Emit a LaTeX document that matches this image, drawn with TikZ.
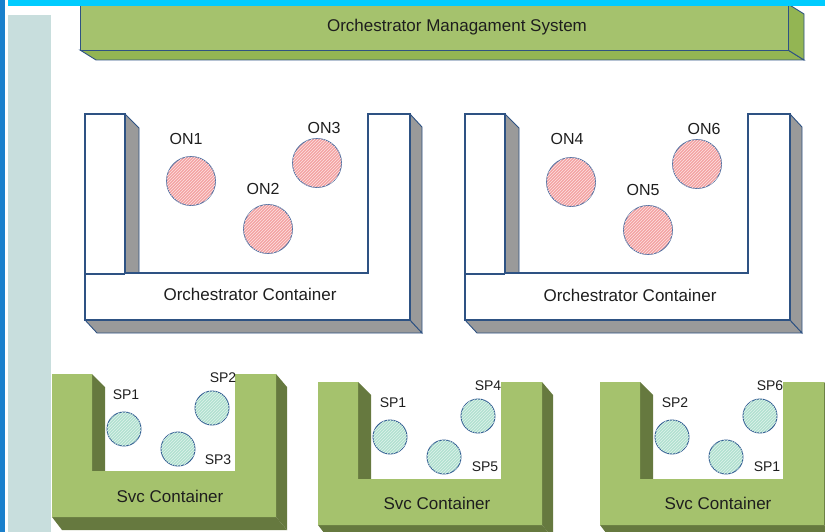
\documentclass[tikz,border=0pt]{standalone}
\usepackage{fontspec}
\setmainfont{Liberation Sans}
\usetikzlibrary{patterns}

\definecolor{bandcyan}{HTML}{00CCFF}
\definecolor{stripblue}{HTML}{1A80CC}
\definecolor{panelgrey}{HTML}{C8DEDD}
\definecolor{leafgreen}{HTML}{A5C26D}
\definecolor{leafside}{HTML}{93B553}
\definecolor{olive}{HTML}{66793F}
\definecolor{navy}{HTML}{2E5283}
\definecolor{shadegrey}{HTML}{9A9A9A}
\definecolor{pinkfill}{HTML}{F4A3A3}
\definecolor{pinkedge}{HTML}{5573A3}
\definecolor{tealfill}{HTML}{B2E1D0}
\definecolor{tealedge}{HTML}{2E5A90}
\definecolor{inkgrey}{HTML}{1E1E1E}

\tikzset{
  txt/.style={text=inkgrey, inner sep=0pt},
  bigtxt/.style={txt, font=\fontsize{17}{17}\selectfont},
  ontxt/.style={txt, font=\fontsize{16}{16}\selectfont},
  sptxt/.style={txt, font=\fontsize{14}{14}\selectfont},
  onode/.style={circle, minimum size=49, inner sep=0pt, draw=pinkedge, line width=0.9,
    fill=pinkfill, postaction={pattern=north east lines, pattern color=white!70!pinkfill}},
  spnode/.style={circle, minimum size=34, inner sep=0pt, draw=tealedge, line width=0.9,
    fill=tealfill, postaction={pattern=north east lines, pattern color=white!60!tealfill}},
  % white U-shaped orchestrator container, origin at its outer top-left corner
  orchbox/.pic={
    \filldraw[fill=shadegrey, draw=navy, line width=0.9] (0,206) -- (325,206) -- (337,219) -- (12,219) -- cycle;
    \filldraw[fill=shadegrey, draw=navy, line width=0.9] (325,0) -- (337,13) -- (337,219) -- (325,206) -- cycle;
    \filldraw[fill=shadegrey, draw=navy, line width=0.9] (40,0) -- (54,14) -- (54,159) -- (40,159) -- cycle;
    \filldraw[fill=white, draw=navy, line width=1.3] (0,0) -- (40,0) -- (40,159) -- (283,159) -- (283,0)
      -- (325,0) -- (325,206) -- (0,206) -- cycle;
    \draw[navy, line width=1.3] (0,160) -- (40,160);
    \draw[navy, line width=2.8] (40,0) -- (40,159) -- (283,159);
  },
  % green U-shaped service container, origin at its outer top-left corner
  svcbox/.pic={
    \fill[olive] (0,143) -- (224,143) -- (235,156) -- (10,156) -- cycle;
    \fill[olive] (224,0) -- (235,13) -- (235,156) -- (224,143) -- cycle;
    \fill[olive] (40,0) -- (53,13) -- (53,97) -- (40,97) -- cycle;
    \fill[leafgreen] (0,0) -- (40,0) -- (40,97) -- (183,97) -- (183,0)
      -- (224,0) -- (224,143) -- (0,143) -- cycle;
  }
}

\begin{document}
\begin{tikzpicture}[x=1pt, y=-1pt]
\useasboundingbox (0,0) rectangle (825,532);
\clip (0,0) rectangle (825,532);

% page frame: side strip, light panel
\fill[stripblue] (0,0) rectangle (5,532);
\fill[panelgrey] (8,15) rectangle (51,532);

% management system slab
\filldraw[fill=leafside, draw=navy, line width=0.9] (80,50) -- (788,50) -- (804,60) -- (96,60) -- cycle;
\filldraw[fill=leafside, draw=navy, line width=0.9] (788,4) -- (804,14) -- (804,60) -- (788,50) -- cycle;
\filldraw[fill=leafgreen, draw=navy, line width=0.9] (80,4) rectangle (788,50);
\fill[bandcyan] (8,0) rectangle (825,6);
\node[bigtxt] (oms) at (457,27) {Orchestrator Managament System};

% orchestrator containers
\pic at (85,114) {orchbox};
\pic at (465,114) {orchbox};
\node[bigtxt] (oc1) at (250,294) {Orchestrator Container};
\node[bigtxt] (oc2) at (630,295) {Orchestrator Container};

\node[onode] (on1) at (191,181) {};
\node[onode] (on2) at (268,229) {};
\node[onode] (on3) at (317,163) {};
\node[onode] (on4) at (571,182) {};
\node[onode] (on5) at (648,230) {};
\node[onode] (on6) at (697,164) {};
\node[ontxt] (on1l) at (186,139) {ON1};
\node[ontxt] (on2l) at (263,189) {ON2};
\node[ontxt] (on3l) at (324,128) {ON3};
\node[ontxt] (on4l) at (567,139) {ON4};
\node[ontxt] (on5l) at (643,190) {ON5};
\node[ontxt] (on6l) at (704,129) {ON6};

% service containers
\pic at (52,374) {svcbox};
\pic at (318,382) {svcbox};
\pic at (600,382) {svcbox};
\node[bigtxt] (sc1) at (170,496) {Svc Container};
\node[bigtxt] (sc2) at (437,503) {Svc Container};
\node[bigtxt] (sc3) at (718,503) {Svc Container};

\node[spnode] (spa1) at (124,429) {};
\node[spnode] (spa2) at (212,408) {};
\node[spnode] (spa3) at (178,449) {};
\node[sptxt] (spa1l) at (126,395) {SP1};
\node[sptxt] (spa2l) at (223,378) {SP2};
\node[sptxt] (spa3l) at (218,460) {SP3};

\node[spnode] (spb1) at (390,437) {};
\node[spnode] (spb4) at (478,416) {};
\node[spnode] (spb5) at (444,457) {};
\node[sptxt] (spb1l) at (393,403) {SP1};
\node[sptxt] (spb4l) at (488,386) {SP4};
\node[sptxt] (spb5l) at (485,467) {SP5};

\node[spnode] (spc2) at (672,437) {};
\node[spnode] (spc6) at (760,416) {};
\node[spnode] (spc1) at (726,457) {};
\node[sptxt] (spc2l) at (675,403) {SP2};
\node[sptxt] (spc6l) at (770,386) {SP6};
\node[sptxt] (spc1l) at (767,467) {SP1};
\end{tikzpicture}
\end{document}
